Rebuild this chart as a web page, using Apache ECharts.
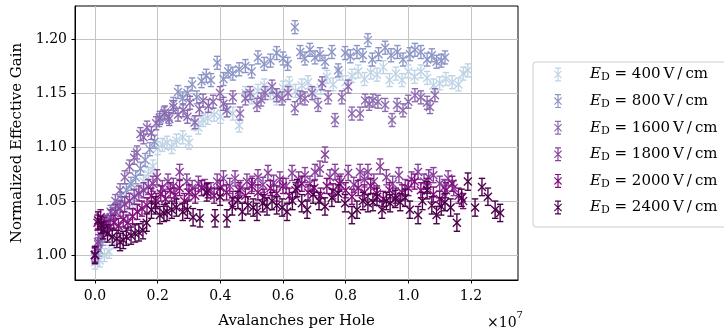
<!DOCTYPE html>
<html><head><meta charset="utf-8">
<script src="https://cdn.jsdelivr.net/npm/echarts@6/dist/echarts.min.js"></script>
<style>html,body{margin:0;padding:0;background:#fff}#c{width:724px;height:332px}</style>
</head><body><div id="c"></div>
<script>
// ---- data (x in units of 1e7 avalanches per hole, y = normalized effective gain) ----
const xTicks = [0.0, 0.2, 0.4, 0.6, 0.8, 1.0, 1.2];
const yTicks = [1.00, 1.05, 1.10, 1.15, 1.20];
const fieldLabels = ['400', '800', '1600', '1800', '2000', '2400'];
const errHalf = [0.006, 0.006, 0.006, 0.007, 0.007, 0.008];

const s400 = [[0.000,0.993],[0.015,0.995],[0.030,1.000],[0.045,1.003],[0.060,1.012],[0.080,1.024],[0.100,1.036],[0.120,1.048],[0.140,1.060],[0.155,1.068],[0.170,1.075],[0.185,1.082],[0.200,1.099],[0.215,1.102],[0.230,1.104],[0.245,1.100],[0.260,1.106],[0.280,1.109],[0.300,1.104],[0.315,1.122],[0.330,1.118],[0.345,1.125],[0.360,1.127],[0.380,1.130],[0.400,1.128],[0.420,1.134],[0.440,1.131],[0.460,1.120],[0.480,1.150],[0.500,1.146],[0.520,1.152],[0.540,1.157],[0.560,1.150],[0.580,1.145],[0.600,1.155],[0.620,1.159],[0.640,1.152],[0.660,1.157],[0.680,1.160],[0.700,1.149],[0.720,1.155],[0.740,1.165],[0.760,1.158],[0.780,1.168],[0.800,1.160],[0.820,1.166],[0.840,1.170],[0.860,1.163],[0.880,1.169],[0.900,1.167],[0.920,1.174],[0.940,1.162],[0.960,1.168],[0.980,1.162],[1.000,1.170],[1.020,1.165],[1.040,1.170],[1.060,1.164],[1.080,1.157],[1.100,1.159],[1.120,1.163],[1.140,1.160],[1.160,1.158],[1.175,1.168],[1.190,1.171]];

const s800 = [[0.000,0.998],[0.012,1.005],[0.025,1.015],[0.040,1.030],[0.055,1.038],[0.070,1.045],[0.085,1.052],[0.100,1.060],[0.115,1.066],[0.130,1.072],[0.145,1.080],[0.160,1.088],[0.175,1.098],[0.190,1.105],[0.205,1.125],[0.220,1.131],[0.235,1.128],[0.250,1.140],[0.265,1.151],[0.280,1.145],[0.295,1.150],[0.310,1.158],[0.325,1.146],[0.340,1.161],[0.355,1.166],[0.370,1.162],[0.390,1.178],[0.410,1.163],[0.425,1.170],[0.440,1.168],[0.460,1.172],[0.480,1.175],[0.500,1.170],[0.520,1.183],[0.540,1.177],[0.560,1.180],[0.580,1.187],[0.600,1.182],[0.615,1.177],[0.638,1.211],[0.655,1.188],[0.670,1.182],[0.686,1.190],[0.702,1.183],[0.718,1.186],[0.734,1.179],[0.756,1.188],[0.776,1.171],[0.798,1.187],[0.815,1.184],[0.836,1.188],[0.855,1.185],[0.871,1.199],[0.885,1.181],[0.905,1.186],[0.926,1.192],[0.945,1.185],[0.965,1.188],[0.983,1.181],[1.005,1.186],[1.021,1.190],[1.040,1.188],[1.060,1.181],[1.075,1.185],[1.090,1.179],[1.105,1.180],[1.117,1.183]];

const s1600 = [[0.000,1.000],[0.010,1.010],[0.020,1.018],[0.035,1.028],[0.050,1.040],[0.065,1.050],[0.080,1.060],[0.095,1.072],[0.110,1.082],[0.125,1.090],[0.134,1.095],[0.145,1.112],[0.155,1.109],[0.166,1.118],[0.180,1.113],[0.195,1.122],[0.207,1.127],[0.223,1.132],[0.237,1.126],[0.250,1.137],[0.265,1.130],[0.281,1.134],[0.295,1.128],[0.303,1.141],[0.319,1.123],[0.333,1.135],[0.345,1.143],[0.362,1.138],[0.377,1.142],[0.399,1.150],[0.410,1.140],[0.421,1.134],[0.440,1.146],[0.463,1.131],[0.480,1.145],[0.495,1.150],[0.517,1.139],[0.530,1.144],[0.543,1.150],[0.565,1.156],[0.580,1.148],[0.597,1.145],[0.616,1.150],[0.638,1.136],[0.655,1.146],[0.670,1.145],[0.693,1.150],[0.712,1.139],[0.725,1.159],[0.744,1.146],[0.766,1.125],[0.788,1.146],[0.808,1.156],[0.820,1.131],[0.846,1.131],[0.862,1.143],[0.875,1.140],[0.887,1.143],[0.903,1.142],[0.926,1.139],[0.948,1.125],[0.964,1.139],[0.983,1.134],[1.000,1.142],[1.021,1.148],[1.040,1.146],[1.060,1.141],[1.069,1.137],[1.085,1.148]];

const s1800 = [[0.000,1.000],[0.010,1.012],[0.022,1.022],[0.035,1.030],[0.050,1.035],[0.065,1.040],[0.080,1.043],[0.095,1.047],[0.110,1.050],[0.125,1.054],[0.140,1.057],[0.155,1.060],[0.170,1.063],[0.185,1.066],[0.198,1.072],[0.215,1.062],[0.233,1.068],[0.250,1.064],[0.270,1.077],[0.293,1.068],[0.310,1.062],[0.330,1.066],[0.350,1.063],[0.370,1.060],[0.390,1.068],[0.410,1.071],[0.430,1.064],[0.447,1.071],[0.465,1.062],[0.485,1.068],[0.502,1.066],[0.520,1.072],[0.536,1.065],[0.552,1.076],[0.570,1.067],[0.590,1.070],[0.610,1.064],[0.629,1.076],[0.650,1.070],[0.670,1.074],[0.686,1.066],[0.702,1.077],[0.718,1.080],[0.734,1.093],[0.750,1.072],[0.766,1.077],[0.785,1.068],[0.808,1.076],[0.826,1.065],[0.846,1.077],[0.860,1.070],[0.871,1.077],[0.890,1.068],[0.910,1.082],[0.930,1.072],[0.950,1.066],[0.970,1.074],[0.990,1.063],[1.010,1.070],[1.031,1.077],[1.050,1.068],[1.065,1.072],[1.080,1.074],[1.100,1.066],[1.115,1.063],[1.127,1.071],[1.145,1.062]];

const s2000 = [[0.000,1.000],[0.008,1.030],[0.018,1.035],[0.030,1.028],[0.045,1.025],[0.060,1.030],[0.075,1.027],[0.090,1.033],[0.105,1.030],[0.120,1.036],[0.135,1.040],[0.150,1.043],[0.166,1.046],[0.180,1.055],[0.195,1.050],[0.210,1.057],[0.225,1.052],[0.240,1.060],[0.255,1.055],[0.270,1.062],[0.285,1.050],[0.300,1.058],[0.320,1.055],[0.340,1.062],[0.360,1.060],[0.380,1.055],[0.400,1.062],[0.420,1.058],[0.440,1.052],[0.460,1.060],[0.480,1.055],[0.500,1.064],[0.520,1.058],[0.540,1.054],[0.560,1.062],[0.580,1.057],[0.600,1.064],[0.620,1.055],[0.640,1.060],[0.660,1.066],[0.680,1.058],[0.700,1.062],[0.720,1.055],[0.740,1.064],[0.760,1.059],[0.780,1.066],[0.800,1.060],[0.820,1.054],[0.840,1.062],[0.860,1.058],[0.880,1.064],[0.900,1.057],[0.920,1.052],[0.940,1.060],[0.960,1.055],[0.980,1.058],[1.000,1.062],[1.020,1.068],[1.040,1.060],[1.060,1.064],[1.080,1.056],[1.100,1.052],[1.120,1.060],[1.140,1.066],[1.160,1.055],[1.175,1.050]];

const s2400 = [[0.000,1.000],[0.010,1.032],[0.020,1.028],[0.026,1.023],[0.040,1.020],[0.055,1.017],[0.070,1.015],[0.080,1.012],[0.090,1.014],[0.100,1.017],[0.115,1.018],[0.128,1.020],[0.140,1.021],[0.153,1.023],[0.165,1.030],[0.180,1.042],[0.193,1.046],[0.207,1.037],[0.220,1.039],[0.230,1.040],[0.245,1.042],[0.260,1.044],[0.280,1.040],[0.295,1.042],[0.313,1.035],[0.335,1.034],[0.357,1.058],[0.383,1.034],[0.399,1.054],[0.421,1.034],[0.438,1.045],[0.456,1.051],[0.470,1.040],[0.488,1.046],[0.505,1.044],[0.517,1.040],[0.535,1.048],[0.549,1.045],[0.565,1.050],[0.580,1.046],[0.597,1.044],[0.613,1.040],[0.630,1.050],[0.645,1.062],[0.660,1.048],[0.677,1.042],[0.696,1.056],[0.715,1.050],[0.734,1.045],[0.756,1.053],[0.776,1.057],[0.798,1.048],[0.820,1.037],[0.836,1.042],[0.855,1.050],[0.871,1.048],[0.887,1.049],[0.900,1.054],[0.916,1.042],[0.930,1.050],[0.942,1.048],[0.958,1.052],[0.974,1.049],[0.990,1.053],[1.005,1.042],[1.031,1.037],[1.045,1.050],[1.060,1.060],[1.075,1.046],[1.090,1.037],[1.105,1.045],[1.117,1.049],[1.135,1.044],[1.155,1.030],[1.170,1.053],[1.190,1.068],[1.213,1.044],[1.235,1.063],[1.254,1.054],[1.277,1.042],[1.293,1.039]];

const seriesData = [s400, s800, s1600, s1800, s2000, s2400];
const colors = ['#bfd3e6', '#8c96c6', '#8c6bb1', '#88419d', '#810f7c', '#4d004b'];
const FONT = 'DejaVu Serif';

const chart = echarts.init(document.getElementById('c'), null, {renderer: 'canvas'});

function makeRender(color) {
  return function (params, api) {
    const x = api.value(0), y = api.value(1), e = api.value(2);
    const p = api.coord([x, y]);
    const t = api.coord([x, y + e]);
    const b = api.coord([x, y - e]);
    const st = {stroke: color, lineWidth: 1.4, fill: null};
    const cw = 3.2, m = 4;
    return {
      type: 'group',
      children: [
        {type: 'line', shape: {x1: p[0], y1: t[1], x2: p[0], y2: b[1]}, style: st},
        {type: 'line', shape: {x1: p[0] - cw, y1: t[1], x2: p[0] + cw, y2: t[1]}, style: st},
        {type: 'line', shape: {x1: p[0] - cw, y1: b[1], x2: p[0] + cw, y2: b[1]}, style: st},
        {type: 'line', shape: {x1: p[0] - m, y1: p[1] - m, x2: p[0] + m, y2: p[1] + m}, style: st},
        {type: 'line', shape: {x1: p[0] - m, y1: p[1] + m, x2: p[0] + m, y2: p[1] - m}, style: st}
      ]
    };
  };
}

const names = fieldLabels.map(f => 'ED' + f);
const iconPath = 'path://M4.4 0L5.6 0L5.6 14L4.4 14ZM2 0L8 0L8 1.2L2 1.2ZM2 12.8L8 12.8L8 14L2 14ZM1 3.8L1.8 3L9 10.2L8.2 11ZM1 10.2L8.2 3L9 3.8L1.8 11Z';

const series = seriesData.map((d, i) => ({
  type: 'custom',
  name: names[i],
  renderItem: makeRender(colors[i]),
  data: d.map(p => [p[0], p[1], errHalf[i]]),
  encode: {x: 0, y: 1},
  itemStyle: {color: colors[i]},
  clip: true,
  z: 2 + i
}));

const option = {
  animation: false,
  backgroundColor: '#fff',
  grid: {left: 75, right: 206, top: 6, bottom: 52, outerBoundsMode: 'none', containLabel: false, show: true, borderColor: '#000', borderWidth: 1, backgroundColor: 'transparent'},
  xAxis: {
    type: 'value', min: -0.0638, max: 1.350,
    axisLine: {show: true, onZero: false, lineStyle: {color: '#000', width: 1}},
    axisTick: {show: true, inside: false, length: 3.5, customValues: xTicks, lineStyle: {color: '#000', width: 1}},
    axisLabel: {customValues: xTicks, formatter: v => v.toFixed(1), color: '#000', fontFamily: FONT, fontSize: 14, margin: 9},
    splitLine: {show: true, lineStyle: {color: '#c4c4c4', width: 1}},
    name: 'Avalanches per Hole', nameLocation: 'middle', nameGap: 34,
    nameTextStyle: {color: '#000', fontFamily: FONT, fontSize: 15}
  },
  yAxis: {
    type: 'value', min: 0.9769, max: 1.2306,
    axisLine: {show: true, onZero: false, lineStyle: {color: '#000', width: 1}},
    axisTick: {show: true, inside: false, length: 3.5, customValues: yTicks, lineStyle: {color: '#000', width: 1}},
    axisLabel: {customValues: yTicks, formatter: v => v.toFixed(2), color: '#000', fontFamily: FONT, fontSize: 14, margin: 8},
    splitLine: {show: true, lineStyle: {color: '#c4c4c4', width: 1}},
    name: 'Normalized Effective Gain', nameLocation: 'middle', nameGap: 49,
    nameTextStyle: {color: '#000', fontFamily: FONT, fontSize: 15}
  },
  legend: {
    show: true, orient: 'vertical', left: 533, top: 62,
    padding: [5, 10, 11, 21],
    itemWidth: 10, itemHeight: 14, itemGap: 10.6,
    borderColor: '#cccccc', borderWidth: 1, borderRadius: 3, backgroundColor: '#fff',
    data: names.map((n, i) => ({name: n, icon: iconPath, itemStyle: {color: colors[i]}})),
    formatter: n => '{i|E}{s|D}{t| = ' + n.slice(2) + '\u2009V\u2009/\u2009cm}',
    textStyle: {
      color: '#000', fontFamily: FONT, fontSize: 15,
      rich: {
        i: {fontFamily: FONT, fontStyle: 'italic', fontSize: 15, padding: [0, 0, 0, 22], color: '#000'},
        s: {fontFamily: FONT, fontSize: 11, verticalAlign: 'bottom', padding: [6, 0, 0, 0], color: '#000'},
        t: {fontFamily: FONT, fontSize: 15, color: '#000'}
      }
    }
  },
  graphic: [{
    type: 'text', left: 487, top: 310, z: 10,
    style: {
      text: '{a|×10}{b|7}',
      rich: {
        a: {fontFamily: FONT, fontSize: 14, fill: '#000', padding: [6, 0, 0, 0]},
        b: {fontFamily: FONT, fontSize: 10, fill: '#000', verticalAlign: 'top'}
      }
    }
  }],
  series: series
};
chart.setOption(option);
</script>
</body></html>
